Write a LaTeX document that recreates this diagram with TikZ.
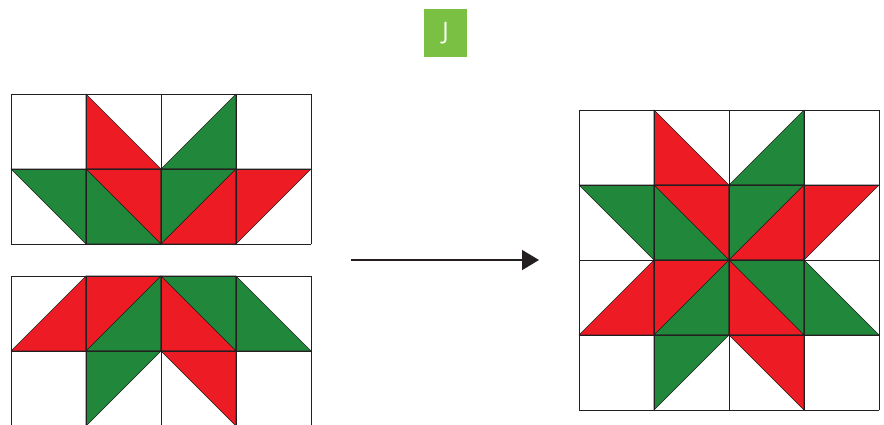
\documentclass[tikz,border=0pt]{standalone}
\usepackage{fontspec}
\newfontfamily\tagfont{Open Sans}
\usepackage{tikz}
\usetikzlibrary{arrows.meta}

\definecolor{quiltred}{HTML}{ED1C24}
\definecolor{quiltgreen}{HTML}{21873A}
\definecolor{taggreen}{HTML}{7AC143}
\definecolor{quiltline}{HTML}{231F20}

% cell column/row/right-angle corner (dx,dy)/colour
\newcommand\upperrows{1/0/0/1/quiltred, 2/0/1/1/quiltgreen,
	0/1/1/0/quiltgreen, 1/1/1/0/quiltred, 1/1/0/1/quiltgreen,
	2/1/0/0/quiltgreen, 2/1/1/1/quiltred, 3/1/0/0/quiltred}
\newcommand\lowerrows{0/0/1/1/quiltred, 1/0/0/0/quiltred, 1/0/1/1/quiltgreen,
	2/0/1/0/quiltgreen, 2/0/0/1/quiltred, 3/0/0/1/quiltgreen,
	1/1/0/0/quiltgreen, 2/1/1/0/quiltred}

\begin{document}
\begin{tikzpicture}[
x=1pt, y=-1pt,
cell/.style={draw=quiltline, line width=0.8pt, line cap=rect},
tri/.style={draw=quiltline, line width=0.6pt, line join=round},
tag/.style={
	fill=taggreen, text=white, inner sep=0pt,
	minimum width=43pt, minimum height=48pt,
	font=\tagfont\fontsize{24}{28}\selectfont
},
flow/.style={-{Triangle[length=17pt,width=20pt]}, line width=1.6pt, draw=quiltline}
]
\useasboundingbox (0,0) rectangle (884,424);
\node[tag] (J) at (445.5,33) {J};
\foreach \bx/\by/\rows in {11/94/\upperrows, 11/276/\lowerrows,
	579/110/\upperrows, 579/260/\lowerrows}
{
	\edef\rowlist{\rows}
	\begin{scope}[shift={(\bx,\by)}, x=75pt, y=-75pt]
		\foreach \c/\r/\dx/\dy/\col in \rowlist
			\filldraw[tri, fill=\col] (\c+\dx,\r+\dy) -- (\c+1-\dx,\r+\dy)
				-- (\c+\dx,\r+1-\dy) -- cycle;
		\foreach \i in {0,...,4}
			\draw[cell] (\i,0) -- (\i,2);
		\foreach \j in {0,1,2}
			\draw[cell] (0,\j) -- (4,\j);
	\end{scope}
}
\coordinate (from) at (351,260);
\coordinate (to) at (539,260);
\draw[flow] (from) -- (to);
\end{tikzpicture}
\end{document}
